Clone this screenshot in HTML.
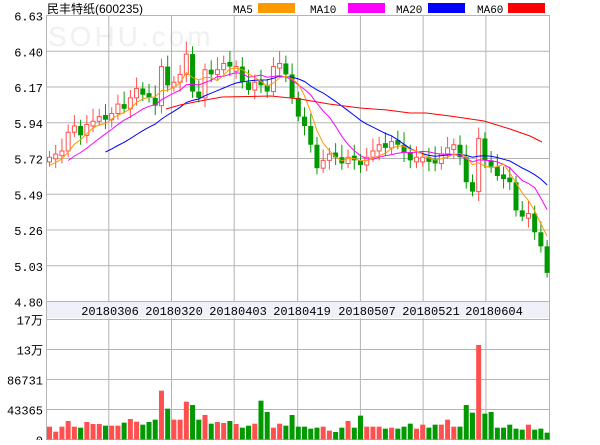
<!DOCTYPE html><html><head><meta charset="utf-8"><style>
body{margin:0;background:#fff;width:600px;height:440px;overflow:hidden}
svg text{font-family:"Liberation Mono","Noto Sans CJK SC",monospace;font-size:12px;fill:#000}
</style></head><body>
<svg id="s" width="600" height="440" xmlns="http://www.w3.org/2000/svg">
<text x="48" y="46" style="font-family:'Liberation Sans',sans-serif;font-size:28px;fill:#f0f0f0;letter-spacing:3px">SOHU.com</text>
<text x="47" y="13" style="font-family:'Liberation Sans','Noto Sans CJK SC',sans-serif;font-size:12px">民丰特纸(600235)</text>
<text x="233" y="13" style="font-size:11px">MA5</text><rect x="258" y="3" width="37" height="10" fill="#ff9900"/>
<text x="310" y="13" style="font-size:11px">MA10</text><rect x="348" y="3" width="37" height="10" fill="#ff00ff"/>
<text x="396" y="13" style="font-size:11px">MA20</text><rect x="428" y="3" width="37" height="10" fill="#0000ff"/>
<text x="477" y="13" style="font-size:11px">MA60</text><rect x="508" y="3" width="37" height="10" fill="#ff0000"/>
<rect x="46.5" y="302" width="503" height="16" fill="#f0f0f8"/>
<g id="g"></g>
</svg>
<script>
var s=document.getElementById('g'),h='';
var L=46.5,R=549.5;
function ln(x1,y1,x2,y2,c,w){h+='<line x1="'+x1+'" y1="'+y1+'" x2="'+x2+'" y2="'+y2+'" stroke="'+c+'" stroke-width="'+(w||1)+'"/>';}
function tx(x,y,t,a){h+='<text x="'+x+'" y="'+y+'" text-anchor="'+(a||'start')+'">'+t+'</text>';}
var py=function(p){return 15+(6.63-p)*156.3;};
var pl=['6.63','6.40','6.17','5.94','5.72','5.49','5.26','5.03','4.80'];
for(var i=0;i<9;i++){var y=15.5+i*35.75;ln(L,y,R,y,'#b4b4b4');tx(43,y+5,pl[i],'end');}
var vl=['17万','13万','86731','43365','0'];
for(var i=0;i<5;i++){var y=319.5+i*30;ln(L,y,R,y,'#b4b4b4');tx(43,y+5,vl[i],'end');}
var gx=[108.8,171.5,234.2,297.7,360.4,423.1,485.9];
gx.forEach(function(x){ln(x,15,x,302,'#b4b4b4');ln(x,318,x,440,'#b4b4b4');});
ln(L,15,L,440,'#b4b4b4');ln(R,15,R,440,'#b4b4b4');
var dl=['20180306','20180320','20180403','20180419','20180507','20180521','20180604'];
var dx=[110,174,238,302,367,431,494];
for(var i=0;i<7;i++)tx(dx[i],315,dl[i],'middle');
var c=[5.72,5.74,5.76,5.88,5.92,5.86,5.93,5.95,5.98,5.96,6.00,6.06,6.03,6.10,6.16,6.12,6.10,6.05,6.30,6.18,6.20,6.25,6.38,6.14,6.10,6.28,6.25,6.28,6.32,6.30,6.30,6.20,6.15,6.20,6.18,6.14,6.30,6.32,6.25,6.10,5.98,5.92,5.80,5.65,5.70,5.74,5.72,5.68,5.72,5.70,5.67,5.72,5.76,5.80,5.78,5.82,5.80,5.75,5.70,5.72,5.72,5.69,5.68,5.74,5.78,5.80,5.72,5.56,5.50,5.84,5.70,5.66,5.60,5.58,5.56,5.38,5.34,5.36,5.24,5.15,4.98];
var vt=[410,425,410,393,410,413,396,402,402,407,407,407,398,387,395,404,396,389,302,356,389,389,335,345,389,375,401,396,399,393,402,413,407,401,332,366,413,401,407,375,410,410,416,413,410,422,426,413,393,413,377,410,410,410,416,413,416,410,401,416,404,413,404,404,389,410,410,345,368,165,371,366,413,413,404,416,419,404,419,416,428];
var n=c.length,X=function(i){return 49.5+i*6.22;};
for(var i=0;i<n;i++){
 var pc=i?c[i-1]:5.70,up=c[i]>=pc,o;
 var b=Math.max(Math.abs(c[i]-pc),0.03);
 o=up?c[i]-b:c[i]+b; if(i==69)o=5.50;
 var col=up?'#ff5050':'#009900',x=X(i);
 var hi=Math.max(o,c[i])+0.04+((i*7)%5)*0.01,lo=Math.min(o,c[i])-0.03-((i*3)%4)*0.01;
 ln(x,py(hi),x,py(lo),col);
 var t=py(Math.max(o,c[i])),bt=py(Math.min(o,c[i]));
 if(up)h+='<rect x="'+(x-2)+'" y="'+t+'" width="4" height="'+Math.max(bt-t,1)+'" fill="#fff" stroke="'+col+'"/>';
 else h+='<rect x="'+(x-2.5)+'" y="'+t+'" width="5" height="'+Math.max(bt-t,1)+'" fill="'+col+'"/>';
 var vy=290+vt[i]/3;
 h+='<rect x="'+(x-2.5)+'" y="'+vy+'" width="5" height="'+(439.5-vy)+'" fill="'+col+'"/>';
}
var pad=[];for(var i=0;i<20;i++)pad.push(5.55+i*0.006);var all=pad.concat(c);
function ma(k,st,col){var p='';for(var i=st;i<n;i++){var s2=0;for(var j=0;j<k;j++)s2+=all[20+i-j];p+=(p?'L':'M')+X(i).toFixed(1)+','+py(s2/k).toFixed(1);}h+='<path d="'+p+'" fill="none" stroke="'+col+'"/>';}
ma(20,9,'#0000ff');ma(10,3,'#ff00ff');ma(5,0,'#ff9900');
h+='<path d="M166,109 L180,105 L200,101 L222,97 L271,96 L300,99 L329,104 L360,108 L387,110 L410,113 L426,113 L450,116 L484,121 L510,129 L530,136 L542,142" fill="none" stroke="#ff0000"/>';
s.innerHTML=h;
</script>
</body></html>
